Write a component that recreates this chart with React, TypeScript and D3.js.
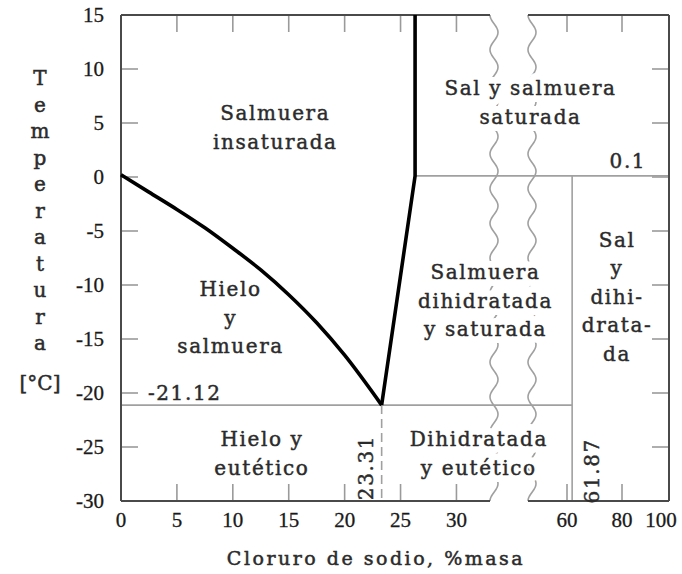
import React from 'react';
import * as d3 from 'd3';

// liquidus (ice + brine) curve, % NaCl vs °C
const icePct = [0, 2.5, 5, 7.5, 10, 12.5, 15, 17.5, 20, 23.31];
const iceTemp = [0.2, -1.4, -3.0, -4.7, -6.6, -8.6, -10.9, -13.5, -16.5, -21.12];
// dihydrate solubility line then salt saturation
const dihPct = [23.31, 26.3, 26.3];
const dihTemp = [-21.12, 0.1, 15];

const eutectic = { pct: 23.31, temp: -21.12 };
const peritectic = { pct: 61.87, temp: 0.1 };

const xTicks = [0, 5, 10, 15, 20, 25, 30, 60, 80, 100];
const yTicks = [-30, -25, -20, -15, -10, -5, 0, 5, 10, 15];

const breakFrom = 33;
const breakTo = 46;

const regions = [
  { lines: ['Salmuera', 'insaturada'], pct: 13.8, temp: 5.9, halo: false },
  { lines: ['Sal y salmuera', 'saturada'], pct: 46.9, temp: 8.2, halo: true },
  { lines: ['Hielo', 'y', 'salmuera'], pct: 9.8, temp: -10.4, halo: false },
  { lines: ['Salmuera', 'dihidratada', 'y saturada'], pct: 32.6, temp: -8.8, halo: true },
  { lines: ['Sal', 'y', 'dihi-', 'drata-', 'da'], pct: 78.2, temp: -5.8, halo: false },
  { lines: ['Hielo y', 'eutético'], pct: 12.6, temp: -24.3, halo: false },
  { lines: ['Dihidratada', 'y eutético'], pct: 32.0, temp: -24.3, halo: true },
];

const valueLabels = [
  { text: '0.1', pct: 82.5, temp: 1.5, rotate: false },
  { text: '-21.12', pct: 5.7, temp: -20.0, rotate: false },
  { text: '23.31', pct: 21.9, temp: -26.9, rotate: true },
  { text: '61.87', pct: 69, temp: -27.2, rotate: true },
];

const yTitle = ['T', 'e', 'm', 'p', 'e', 'r', 'a', 't', 'u', 'r', 'a'];
const yUnit = '[°C]';
const xTitle = 'Cloruro de sodio, %masa';

const W = 682;
const H = 574;

export default function App() {
  const x = d3.scaleLinear()
    .domain([0, breakFrom, breakTo, 60, 80, 100])
    .range([121, 490, 528, 567, 622, 669]);
  const y = d3.scaleLinear().domain([-30, 15]).range([501, 15]);

  const iceLine = d3.line<[number, number]>()
    .x((d) => x(d[0]))
    .y((d) => y(d[1]))
    .curve(d3.curveMonotoneX)(icePct.map((p, i) => [p, iceTemp[i]]));
  const dihLine = d3.line<[number, number]>()
    .x((d) => x(d[0]))
    .y((d) => y(d[1]))(dihPct.map((p, i) => [p, dihTemp[i]]));

  const y0 = y(15);
  const y1 = y(-30);
  const xl = x(0);
  const xr = x(100);
  const bl = x(breakFrom);
  const br = x(breakTo);

  // wavy break marks
  const period = (y1 - y0) / 14;
  const wave = (x0: number) => {
    const pts: [number, number][] = d3.range(y0, y1 + 0.5, 1).map((yy) => [
      x0 + 4 - 4 * Math.cos((2 * Math.PI * (yy - y0)) / period),
      yy,
    ]);
    return d3.line().curve(d3.curveBasis)(pts);
  };

  const tickLen = 17;
  const textStyle: React.CSSProperties = {
    fontFamily: "'DejaVu Serif', serif",
    fontSize: 20,
    letterSpacing: 1.6,
  };
  const lh = 28.5;
  const ink = '#2b2b2b';

  const regionText = (halo: boolean) =>
    regions.filter((r) => !halo || r.halo).map((r, i) => (
      <text
        key={(halo ? 'h' : 'r') + i}
        x={x(r.pct)}
        y={y(r.temp)}
        dominantBaseline="central"
        stroke={halo ? '#fff' : ink}
        strokeWidth={halo ? 14 : 0.45}
        strokeLinejoin="round"
        fill={halo ? '#fff' : ink}
      >
        {r.lines.map((l, j) => (
          <tspan key={j} x={x(r.pct)} dy={j === 0 ? 0 : lh}>{l}</tspan>
        ))}
      </text>
    ));

  return (
    <svg width={W} height={H} style={{ position: 'absolute', left: 0, top: 0, background: '#fff' }}>
      <rect width={W} height={H} fill="#fff" />
      {/* inner ticks on all sides */}
      <g stroke="#9a9a9a" strokeWidth={1.6}>
        {yTicks.map((t) => (
          <g key={'y' + t}>
            <line x1={xl} x2={xl + tickLen} y1={y(t)} y2={y(t)} />
            <line x1={xr} x2={xr - tickLen} y1={y(t)} y2={y(t)} />
          </g>
        ))}
        {xTicks.map((t) => (
          <g key={'x' + t}>
            <line x1={x(t)} x2={x(t)} y1={y1} y2={y1 - tickLen} />
            <line x1={x(t)} x2={x(t)} y1={y0} y2={y0 + tickLen} />
          </g>
        ))}
      </g>
      {/* phase boundaries (thin) */}
      <g stroke="#a0a0a0" strokeWidth={1.6} fill="none">
        <line x1={x(0)} x2={x(peritectic.pct)} y1={y(eutectic.temp)} y2={y(eutectic.temp)} />
        <line x1={x(26.3)} x2={x(100)} y1={y(peritectic.temp)} y2={y(peritectic.temp)} />
        <line x1={x(peritectic.pct)} x2={x(peritectic.pct)} y1={y(peritectic.temp)} y2={y1} />
        <line x1={x(eutectic.pct)} x2={x(eutectic.pct)} y1={y(eutectic.temp)} y2={y1} strokeDasharray="9,5" />
        <path d={wave(bl) || ''} />
        <path d={wave(br) || ''} />
      </g>
      {/* frame */}
      <g stroke="#4a4a4a" strokeWidth={2} fill="none">
        <line x1={xl} x2={xl} y1={y0} y2={y1} />
        <line x1={xr} x2={xr} y1={y0} y2={y1} />
        <line x1={xl} x2={bl} y1={y0} y2={y0} />
        <line x1={br} x2={xr} y1={y0} y2={y0} />
        <line x1={xl} x2={bl} y1={y1} y2={y1} />
        <line x1={br} x2={xr} y1={y1} y2={y1} />
      </g>
      {/* thick liquidus lines */}
      <g stroke="#000" strokeWidth={3.6} fill="none">
        <path d={iceLine || ''} />
        <path d={dihLine || ''} />
      </g>
      {/* region labels */}
      <g textAnchor="middle" style={textStyle}>
        {regionText(true)}
        {regionText(false)}
        {valueLabels.map((v, i) => (
          <text
            key={'v' + i}
            x={x(v.pct)}
            y={y(v.temp)}
            fill={ink}
            stroke={ink}
            strokeWidth={0.45}
            dominantBaseline="central"
            transform={v.rotate ? `rotate(-90 ${x(v.pct)} ${y(v.temp)})` : undefined}
          >
            {v.text}
          </text>
        ))}
      </g>
      {/* tick labels */}
      <g fill="#1a1a1a" stroke="#1a1a1a" strokeWidth={0.3} style={{ fontFamily: "'Liberation Serif', serif", fontSize: 21 }}>
        {yTicks.map((t) => (
          <text key={'yl' + t} x={104} y={y(t)} textAnchor="end" dominantBaseline="central">{t}</text>
        ))}
        {xTicks.map((t) => (
          <text key={'xl' + t} x={x(t) - (t === 100 ? 8 : 0)} y={520} textAnchor="middle" dominantBaseline="central">{t}</text>
        ))}
      </g>
      {/* axis titles */}
      <g fill={ink} stroke={ink} strokeWidth={0.5} textAnchor="middle" style={textStyle}>
        {yTitle.map((c, i) => (
          <text key={'t' + i} x={40} y={78 + i * 26.5} dominantBaseline="central" style={{ letterSpacing: 0 }}>{c}</text>
        ))}
        <text x={40} y={383} dominantBaseline="central" style={{ letterSpacing: 0 }}>{yUnit}</text>
        <text x={376} y={558} dominantBaseline="central" style={{ fontSize: 19, letterSpacing: 2.5 }}>{xTitle}</text>
      </g>
    </svg>
  );
}
